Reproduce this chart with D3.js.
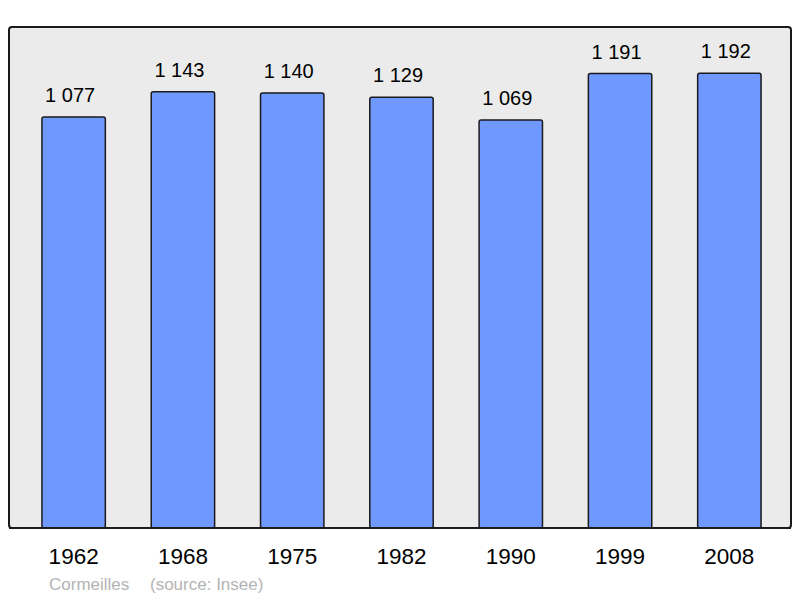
<!DOCTYPE html>
<html>
<head>
<meta charset="utf-8">
<script src="https://cdn.jsdelivr.net/npm/d3@7"></script>
<style>
  body { margin: 0; background: #fff; }
  svg { display: block; font-family: "Liberation Sans", Arial, sans-serif; }
</style>
</head>
<body>
<svg id="chart" width="800" height="598"></svg>
<script>
// population of Cormeilles by census year
const years  = ['1962', '1968', '1975', '1982', '1990', '1999', '2008'];
const values = [1077, 1143, 1140, 1129, 1069, 1191, 1192];
const yMax   = 1313;

const svg = d3.select('#chart');

const frame = { left: 9, top: 27, right: 791, bottom: 528 };

// ---------- background frame ----------
svg.append('rect')
  .attr('x', frame.left).attr('y', frame.top)
  .attr('width', frame.right - frame.left)
  .attr('height', frame.bottom - frame.top)
  .attr('rx', 3)
  .attr('fill', '#ebebeb')
  .attr('stroke', '#1a1a1a')
  .attr('stroke-width', 2);

// ---------- scales ----------
const x = d3.scaleBand()
  .domain(years)
  .range([19, 784])
  .paddingInner(0.42)
  .paddingOuter(0.21);

const y = d3.scaleLinear()
  .domain([0, yMax])
  .range([frame.bottom, frame.top]);

const data = years.map((yr, i) => ({ year: yr, value: values[i] }));

// ---------- bars ----------
svg.append('g').selectAll('rect')
  .data(data)
  .enter().append('rect')
    .attr('x', d => x(d.year))
    .attr('y', d => y(d.value))
    .attr('width', x.bandwidth())
    .attr('height', d => y(0) - y(d.value))
    .attr('rx', 2)
    .attr('fill', '#7099ff')
    .attr('stroke', '#1a1a1a')
    .attr('stroke-width', 1.5);

// redraw the bottom edge of the frame above the bars
svg.append('line')
  .attr('x1', frame.left).attr('x2', frame.right)
  .attr('y1', frame.bottom).attr('y2', frame.bottom)
  .attr('stroke', '#1a1a1a')
  .attr('stroke-width', 2);

// ---------- value labels ----------
svg.append('g').selectAll('text')
  .data(data)
  .enter().append('text')
    .attr('x', d => x(d.year) + x.bandwidth() / 2 - 3.5)
    .attr('y', d => y(d.value) - 15)
    .attr('text-anchor', 'middle')
    .attr('font-size', 20)
    .attr('fill', '#000')
    .text(d => String(d.value).replace(/^(\d)(\d{3})$/, '$1 $2'));

// ---------- year axis ----------
const axis = svg.append('g')
  .attr('transform', `translate(0,${frame.bottom})`)
  .call(d3.axisBottom(x).tickSize(0).tickPadding(0));
axis.select('.domain').remove();
axis.selectAll('text')
  .attr('dy', null)
  .attr('y', 36)
  .attr('font-size', 22.5)
  .attr('font-family', '"Liberation Sans", Arial, sans-serif')
  .attr('fill', '#000');

// ---------- footer ----------
svg.append('text')
  .attr('x', 49).attr('y', 590)
  .attr('font-size', 17)
  .attr('fill', '#b3b3b3')
  .text('Cormeilles');
svg.append('text')
  .attr('x', 150).attr('y', 590)
  .attr('font-size', 17)
  .attr('fill', '#b3b3b3')
  .text('(source: Insee)');
</script>
</body>
</html>
